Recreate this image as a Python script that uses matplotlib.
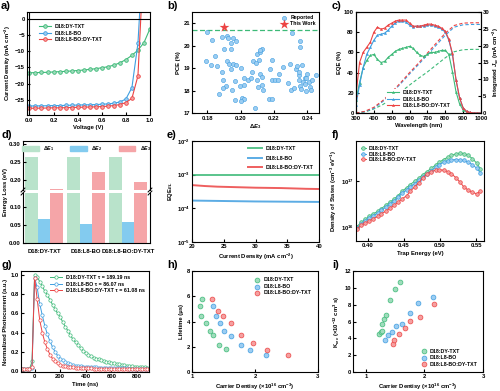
import matplotlib
matplotlib.use("Agg")
import matplotlib.pyplot as plt
from matplotlib.patches import Patch

# ---------------- data ----------------
blends = ["D18:DY-TXT", "D18:L8-BO", "D18:L8-BO:DY-TXT"]

# a) J-V
voltage = [0.0, 0.05, 0.1, 0.15, 0.2, 0.25, 0.3, 0.35, 0.4, 0.45, 0.5,
           0.55, 0.6, 0.65, 0.7, 0.75, 0.8, 0.85, 0.9, 0.95, 1.0]
j_dy = [-16.65, -16.6, -16.55, -16.5, -16.4, -16.3, -16.2, -16.1, -15.95, -15.8, -15.6,
        -15.4, -15.1, -14.8, -14.3, -13.6, -12.6, -11.3, -9.7, -7.4, -3.1]
j_l8 = [-26.85, -26.8, -26.8, -26.75, -26.7, -26.7, -26.65, -26.6, -26.55, -26.5, -26.45,
        -26.4, -26.3, -26.2, -26.0, -25.6, -24.7, -21.2, -7.6, 25.0, 40.0]
j_ter = [-27.55, -27.5, -27.5, -27.45, -27.4, -27.4, -27.35, -27.3, -27.25, -27.2, -27.15,
         -27.1, -27.0, -26.9, -26.7, -26.4, -25.8, -24.5, -17.6, 20.0, 40.0]

# b) PCE vs dE3 (reported) + this work
rep_de3 = [0.180, 0.183, 0.1886, 0.1916, 0.1926, 0.1956, 0.1972, 0.1942, 0.1898, 0.194,
           0.1846, 0.179, 0.1822, 0.186, 0.1916, 0.193, 0.1956, 0.1972, 0.1942, 0.2002,
           0.189, 0.1896, 0.191, 0.1896, 0.1872, 0.195, 0.1964, 0.1994, 0.2006, 0.2022,
           0.2002, 0.1966, 0.2022, 0.2042, 0.202, 0.2062, 0.207, 0.2076, 0.2092, 0.211,
           0.210, 0.2116, 0.213, 0.2116, 0.2096, 0.2116, 0.2126, 0.2106, 0.213, 0.2136,
           0.2086, 0.2176, 0.2186, 0.219, 0.2206, 0.2224, 0.2232, 0.217, 0.219, 0.2256,
           0.2296, 0.2306, 0.2282, 0.2302, 0.2318, 0.233, 0.234, 0.2348, 0.2352, 0.2354,
           0.236, 0.2374, 0.2384, 0.2352, 0.2368, 0.2356, 0.2356, 0.2384, 0.2394, 0.2394,
           0.240, 0.2408, 0.2414, 0.2428, 0.2424, 0.245]
rep_pce = [20.61, 20.26, 20.38, 20.41, 20.36, 20.32, 20.23, 20.11, 19.87, 19.87,
           19.52, 19.31, 19.13, 19.10, 19.31, 19.19, 19.19, 19.12, 18.97, 18.99,
           18.84, 18.48, 18.19, 18.11, 17.83, 18.01, 18.41, 18.21, 17.65, 17.64,
           17.55, 17.56, 18.56, 18.48, 18.24, 18.54, 18.81, 19.30, 19.22, 19.37,
           19.64, 19.74, 19.84, 19.81, 18.48, 18.75, 18.59, 18.16, 18.24, 18.01,
           17.24, 18.96, 18.48, 19.34, 18.48, 18.48, 18.75, 17.61, 17.61, 19.03,
           19.19, 20.56, 18.33, 18.01, 18.11, 18.96, 19.10, 18.69, 18.48, 18.21,
           18.07, 18.36, 18.54, 18.81, 19.13, 20.21, 19.96, 18.30, 18.54, 17.96,
           18.75, 18.39, 18.18, 18.48, 18.01, 18.69]
this_de3 = [0.190]
this_pce = [20.85]
best_line = 20.7

# c) EQE and integrated Jsc
wl = [300, 320, 340, 360, 380, 400, 420, 440, 460, 480, 500, 520, 540, 560, 580, 600, 620, 640,
      660, 680, 700, 720, 740, 760, 780, 800, 820, 840, 860, 880, 900, 920, 940, 960, 980, 1000]
eqe_dy = [13, 30, 45, 52, 57, 58, 53, 50, 51, 55, 58, 61, 63, 64, 65, 66, 64, 60,
          57, 56, 58, 60, 60, 61, 62, 62, 58, 41, 21, 9, 3, 1, 0.3, 0, 0, 0]
eqe_l8 = [8, 28, 45, 58, 65, 72, 77, 78, 79, 82, 86, 89, 91, 91, 90, 87, 85, 86,
          86, 86, 87, 87, 86, 85, 83, 80, 72, 58, 33, 15, 5, 1.5, 0.5, 0, 0, 0]
eqe_ter = [18, 50, 60, 65, 70, 80, 85, 83, 84, 87, 89, 91, 92, 92, 92, 89, 86, 86,
           86, 87, 88, 88, 87, 86, 84, 81, 73, 59, 33, 15, 5, 1.5, 0.5, 0, 0, 0]
wl_int = [300, 350, 400, 450, 500, 550, 600, 650, 700, 750, 800, 850, 900, 950, 1000]
jint_dy = [0, 0.3, 1.2, 2.5, 4.2, 6.2, 8.3, 10.3, 12.2, 14.3, 16.4, 18.2, 18.8, 18.9, 18.9]
jint_l8 = [0, 0.4, 1.4, 3.4, 5.9, 8.7, 11.6, 14.4, 17.3, 20.2, 23.1, 25.5, 26.2, 26.3, 26.3]
jint_ter = [0, 0.5, 1.7, 3.7, 6.2, 9.0, 12.0, 14.8, 17.8, 20.8, 23.7, 26.0, 26.7, 26.8, 26.8]

# d) energy loss
de1 = [0.264, 0.264, 0.264]
de2 = [0.067, 0.053, 0.059]
de3 = [0.176, 0.223, 0.194]

# e) EQE_EL
cd = [20, 22, 24, 26, 28, 30, 32, 34, 36, 38, 40]
eqeel_dy = [9.6e-4, 9.6e-4, 9.6e-4, 9.6e-4, 9.6e-4, 9.6e-4, 9.6e-4, 9.6e-4, 9.6e-4, 9.6e-4, 9.6e-4]
eqeel_l8 = [1.70e-4, 1.68e-4, 1.66e-4, 1.64e-4, 1.62e-4, 1.60e-4, 1.59e-4, 1.58e-4, 1.57e-4, 1.56e-4, 1.55e-4]
eqeel_ter = [4.9e-4, 4.6e-4, 4.4e-4, 4.3e-4, 4.2e-4, 4.1e-4, 4.05e-4, 4.0e-4, 3.9e-4, 3.8e-4, 3.75e-4]

# f) trap DOS (log10 values)
trap_e = [0.385, 0.391, 0.397, 0.402, 0.408, 0.414, 0.419, 0.425, 0.431, 0.437, 0.442,
          0.448, 0.454, 0.459, 0.465, 0.471, 0.476, 0.482, 0.488, 0.494, 0.499, 0.505,
          0.511, 0.516, 0.522, 0.528, 0.533, 0.539, 0.545, 0.551, 0.556]
logdos_dy = [16.01, 16.10, 16.17, 16.23, 16.29, 16.34, 16.40, 16.47, 16.54, 16.61, 16.68,
             16.78, 16.85, 16.92, 16.99, 17.06, 17.13, 17.20, 17.27, 17.34, 17.40, 17.46,
             17.51, 17.55, 17.58, 17.60, 17.59, 17.55, 17.48, 17.38, 17.26]
logdos_l8 = [15.98, 16.06, 16.13, 16.19, 16.25, 16.30, 16.36, 16.43, 16.50, 16.57, 16.64,
             16.74, 16.80, 16.87, 16.94, 17.01, 17.08, 17.15, 17.22, 17.29, 17.35, 17.40,
             17.43, 17.45, 17.46, 17.45, 17.44, 17.40, 17.35, 17.27, 17.17]
logdos_ter = [15.96, 16.04, 16.09, 16.13, 16.18, 16.23, 16.29, 16.34, 16.41, 16.47, 16.54,
              16.61, 16.68, 16.77, 16.87, 16.96, 17.06, 17.14, 17.20, 17.23, 17.24, 17.23,
              17.20, 17.15, 17.07, 16.97, 16.87, 16.80, 16.75, 16.72, 16.78]

# g) TPC
t_ns = [-100, -80, -60, -40, -20, 0, 20, 40, 60, 80, 100, 120, 140, 160, 180, 200, 220,
        240, 260, 280, 300, 320, 340, 360, 380, 400, 420, 440, 460, 480, 500, 520, 540,
        560, 580, 600, 620, 640, 660, 680, 700, 720, 740, 760, 780, 800, 820, 840, 860, 880, 900]
tpc_dy = [0.02, 0.02, 0.02, 0.02, 0.10, 1.00, 0.98, 0.93, 0.88, 0.83, 0.79, 0.74, 0.69, 0.64,
          0.60, 0.56, 0.51, 0.46, 0.42, 0.37, 0.33, 0.30, 0.27, 0.24, 0.21, 0.19, 0.17, 0.155,
          0.14, 0.13, 0.125, 0.115, 0.105, 0.095, 0.09, 0.085, 0.08, 0.075, 0.07, 0.065, 0.06,
          0.055, 0.05, 0.05, 0.045, 0.045, 0.04, 0.04, 0.04, 0.035, 0.035]
tpc_l8 = [0.02, 0.02, 0.02, 0.02, 0.03, 0.97, 0.87, 0.70, 0.58, 0.47, 0.38, 0.31, 0.25, 0.20,
          0.16, 0.13, 0.11, 0.09, 0.08, 0.07, 0.06, 0.055, 0.05, 0.05, 0.045, 0.045, 0.04,
          0.04, 0.04, 0.04, 0.035, 0.035, 0.035, 0.035, 0.03, 0.03, 0.03, 0.03, 0.03, 0.03,
          0.03, 0.03, 0.025, 0.025, 0.025, 0.025, 0.025, 0.025, 0.025, 0.025, 0.025]
tpc_ter = [0.02, 0.02, 0.02, 0.02, 0.04, 0.97, 0.75, 0.53, 0.40, 0.30, 0.23, 0.17, 0.13, 0.10,
           0.08, 0.065, 0.055, 0.05, 0.045, 0.04, 0.04, 0.035, 0.035, 0.03, 0.03, 0.03, 0.03,
           0.03, 0.025, 0.025, 0.025, 0.025, 0.025, 0.025, 0.02, 0.02, 0.02, 0.02, 0.02, 0.02,
           0.02, 0.02, 0.02, 0.02, 0.02, 0.02, 0.02, 0.02, 0.02, 0.02, 0.02]
tau_labels = ["D18:DY-TXT \u03c4 = 189.19 ns", "D18:L8-BO \u03c4 = 86.07 ns",
              "D18:L8-BO:DY-TXT \u03c4 = 61.08 ns"]

# h) lifetime vs carrier density
n_dy_h = [1.16, 1.13, 1.15, 1.23, 1.28, 1.33, 1.43, 1.54]
tau_dy = [5.82, 5.21, 4.42, 3.89, 3.23, 2.96, 2.17, 1.85]
n_l8_h = [1.33, 1.38, 1.45, 1.51, 1.62, 1.77, 1.92, 2.17]
tau_l8 = [5.21, 4.42, 3.89, 3.23, 2.88, 2.17, 1.72, 1.38]
n_ter_h = [1.32, 1.41, 1.49, 1.62, 1.78, 1.97, 2.19, 2.52]
tau_ter = [5.82, 4.81, 4.42, 3.89, 2.96, 2.33, 1.72, 1.38]

# i) Krec vs carrier density
n_dy_i = [1.22, 1.25, 1.27, 1.28, 1.31, 1.34, 1.42, 1.49, 1.58]
k_dy = [4.55, 4.78, 4.90, 5.73, 6.35, 6.75, 8.51, 9.88, 10.75]
n_l8_i = [1.33, 1.38, 1.44, 1.51, 1.61, 1.75, 1.89, 2.14]
k_l8 = [3.80, 4.39, 4.71, 5.49, 5.69, 7.02, 8.24, 8.90]
n_ter_i = [1.46, 1.48, 1.56, 1.66, 1.75, 1.93, 2.17]
k_ter = [3.37, 3.84, 4.55, 5.18, 6.04, 6.55, 8.04]

# ---------------- style ----------------
GREEN, BLUE, RED = "#3dba78", "#3f9ee0", "#ec4343"
LGREEN, LBLUE, LRED = "#9fdcbc", "#9ccdf2", "#f5a0a0"
BAR_G, BAR_B, BAR_R = "#b9e3cb", "#83cbef", "#f5a5a8"

plt.rcParams["font.family"] = ["Liberation Sans", "DejaVu Sans"]
plt.rcParams["font.weight"] = "bold"
plt.rcParams["axes.labelweight"] = "bold"
plt.rcParams["font.size"] = 4.2
plt.rcParams["mathtext.fontset"] = "custom"
plt.rcParams["mathtext.rm"] = "Liberation Sans:bold"
plt.rcParams["mathtext.it"] = "Liberation Sans:italic:bold"
plt.rcParams["mathtext.bf"] = "Liberation Sans:bold"
plt.rcParams["axes.linewidth"] = 0.8
plt.rcParams["xtick.direction"] = "in"
plt.rcParams["ytick.direction"] = "in"
plt.rcParams["xtick.major.size"] = 2
plt.rcParams["ytick.major.size"] = 2
plt.rcParams["xtick.minor.size"] = 1
plt.rcParams["ytick.minor.size"] = 1
plt.rcParams["xtick.major.pad"] = 1.8
plt.rcParams["ytick.major.pad"] = 1.5
plt.rcParams["axes.labelpad"] = 1.5
plt.rcParams["legend.frameon"] = False
plt.rcParams["legend.fontsize"] = 3.8

W, H = 500, 391
fig = plt.figure(figsize=(5, 3.91), dpi=100)


def box(l, t, r, b):
    return [l / W, 1 - b / H, (r - l) / W, (b - t) / H]


def tag(x, y, s):
    fig.text(x / W, 1 - y / H, s, fontsize=8, fontweight="bold", va="top", ha="left")


colors = [GREEN, BLUE, RED]
lights = [LGREEN, LBLUE, LRED]

# ---------------- a) J-V ----------------
ax = fig.add_axes(box(27, 12, 150, 115))
for j, c, lc, lab in zip([j_dy, j_l8, j_ter], colors, lights, blends):
    ax.plot(voltage, j, color=c, lw=0.8, marker="o", ms=2.6, mfc=lc, mec=c, mew=0.6, label=lab)
ax.axhline(0, color="k", lw=0.8)
ax.axvline(0, color="k", lw=0.8)
ax.set_xlim(-0.02, 1.0)
ax.set_ylim(-29.6, 2)
ax.set_xticks([0.0, 0.2, 0.4, 0.6, 0.8, 1.0])
ax.set_yticks([0, -5, -10, -15, -20, -25])
ax.set_xlabel("Voltage (V)")
ax.set_ylabel("Current Density (mA cm$^{-2}$)")
ax.legend(loc="upper left", bbox_to_anchor=(0.06, 0.93), handlelength=2.2, labelspacing=0.3)
tag(1, 1, "a)")

# ---------------- b) PCE vs dE3 ----------------
ax = fig.add_axes(box(192, 12, 319, 113))
ax.scatter(rep_de3, rep_pce, s=9, color=LBLUE, edgecolor=BLUE, lw=0.4, label="Reported", zorder=3)
ax.scatter(this_de3, this_pce, s=55, marker="*", color=RED, lw=0, label="This Work", zorder=4)
ax.axhline(best_line, color=GREEN, ls=(0, (4, 2)), lw=0.9)
ax.set_xlim(0.1708, 0.247)
ax.set_ylim(17, 21.5)
ax.set_xticks([0.18, 0.20, 0.22, 0.24])
ax.set_yticks([17, 18, 19, 20, 21])
ax.set_xlabel("$\\Delta E_3$")
ax.set_ylabel("PCE (%)")
ax.legend(loc="upper right", handletextpad=0.2, labelspacing=0.2, borderaxespad=0.2)
tag(167, 1, "b)")

# ---------------- c) EQE ----------------
ax = fig.add_axes(box(356, 12, 481, 113))
ax2 = ax.twinx()
for e, c, lab in zip([eqe_dy, eqe_l8, eqe_ter], colors, blends):
    ax.plot(wl, e, color=c, lw=0.8, marker="^", ms=1.6, mew=0.3, label=lab)
for jj, c in zip([jint_dy, jint_l8, jint_ter], colors):
    ax2.plot(wl_int, jj, color=c, lw=0.8, ls=(0, (3, 2)))
ax.set_xlim(300, 1000)
ax.set_ylim(0, 100)
ax2.set_ylim(0, 30)
ax.set_xticks(range(300, 1001, 100))
ax2.tick_params(direction="in", length=2, pad=1.2)
ax.set_xlabel("Wavelength (nm)")
ax.set_ylabel("EQE (%)")
ax2.set_ylabel("Integrated $J_{sc}$ (mA cm$^{-2}$)", labelpad=0.8)
ax.set_zorder(ax2.get_zorder() + 1)
ax.patch.set_visible(False)
leg = ax.legend(loc="lower left", bbox_to_anchor=(0.22, 0.01), frameon=True, edgecolor="none",
                framealpha=1, handlelength=2.2, labelspacing=0.3, borderpad=0.2)
tag(332, 1, "c)")

# ---------------- d) energy loss (broken axis) ----------------
ax_top = fig.add_axes(box(23, 141, 150, 190))
ax_bot = fig.add_axes(box(23, 193, 150, 243))
xs = [0, 1, 2]
bw = 0.3
for a in (ax_top, ax_bot):
    a.bar([x - bw for x in xs], de1, bw, color=BAR_G)
    a.bar(xs, de2, bw, color=BAR_B)
    a.bar([x + bw for x in xs], de3, bw, color=BAR_R)
    a.set_xlim(-0.5, 2.52)
ax_top.set_ylim(0.172, 0.308)
ax_bot.set_ylim(0, 0.139)
ax_top.set_yticks([0.20, 0.25, 0.30])
ax_bot.set_yticks([0.00, 0.05, 0.10])
ax_top.yaxis.set_major_formatter(plt.FormatStrFormatter("%.2f"))
ax_bot.yaxis.set_major_formatter(plt.FormatStrFormatter("%.2f"))
ax_top.spines["bottom"].set_visible(False)
ax_bot.spines["top"].set_visible(False)
ax_top.set_xticks([])
ax_bot.set_xticks(xs)
ax_bot.set_xticklabels(blends)
ax_bot.tick_params(axis="x", length=0, pad=4)
for a, yy in ((ax_top, 0), (ax_bot, 1)):
    for xx in (0, 1):
        a.plot([xx - 0.015, xx + 0.015], [yy - 0.04, yy + 0.04], transform=a.transAxes,
               color="k", lw=0.7, clip_on=False)
ax_top.legend(handles=[Patch(color=BAR_G, label="$\\Delta E_1$"),
                       Patch(color=BAR_B, label="$\\Delta E_2$"),
                       Patch(color=BAR_R, label="$\\Delta E_3$")],
              loc="upper center", ncol=3, handlelength=3.2, handleheight=1.0,
              columnspacing=3.0, borderaxespad=0.2)
fig.text(3 / W, 1 - 192 / H, "Energy Loss (eV)", rotation=90, va="center", ha="left",
         fontweight="bold")
tag(1, 130, "d)")

# ---------------- e) EQE_EL ----------------
ax = fig.add_axes(box(192, 141, 319, 242))
for e, c, lab in zip([eqeel_dy, eqeel_l8, eqeel_ter], colors, blends):
    ax.plot(cd, e, color=c, lw=1.4, alpha=0.85, label=lab)
ax.set_yscale("log")
ax.set_xlim(20, 40)
ax.set_ylim(1e-5, 1e-2)
ax.set_xticks([20, 25, 30, 35, 40])
ax.minorticks_off()
ax.set_xlabel("Current Density (mA cm$^{-2}$)")
ax.set_ylabel("EQE$_{EL}$")
ax.legend(loc="upper right", handlelength=2.6, labelspacing=0.8, borderaxespad=0.6)
tag(167, 130, "e)")

# ---------------- f) trap DOS ----------------
ax = fig.add_axes(box(356, 141, 484, 241))
for ld, c, lc, lab in zip([logdos_dy, logdos_l8, logdos_ter], colors, lights, blends):
    dos = [10 ** v for v in ld]
    ax.plot(trap_e, dos, color=c, lw=0.7, marker="o", ms=2.6, mfc=lc, mec=c, mew=0.5, label=lab)
ax.set_yscale("log")
ax.set_xlim(0.384, 0.561)
ax.set_ylim(10 ** 15.7, 10 ** 17.86)
ax.set_xticks([0.40, 0.45, 0.50, 0.55])
ax.minorticks_off()
ax.set_yticks([1e16, 1e17])
ax.set_xlabel("Trap Energy (eV)")
ax.set_ylabel("Density of States (cm$^{-3}$ eV$^{-1}$)")
ax.legend(loc="upper left", handlelength=1.0, labelspacing=0.15, borderaxespad=0.5,
          handletextpad=0.4)
tag(332, 130, "f)")

# ---------------- g) TPC ----------------
ax = fig.add_axes(box(21, 271, 149, 372))
for tp, c, lc, lab in zip([tpc_dy, tpc_l8, tpc_ter], colors, lights, tau_labels):
    ax.plot(t_ns, tp, color=c, lw=0.7, marker="o", ms=2.4, mfc="white", mec=c, mew=0.5, label=lab)
ax.set_xlim(-106, 893)
ax.set_ylim(-0.01, 1.04)
ax.set_xticks([0, 200, 400, 600, 800])
ax.set_yticks([0.0, 0.2, 0.4, 0.6, 0.8, 1.0])
ax.yaxis.set_major_formatter(plt.FormatStrFormatter("%.1f"))
ax.set_xlabel("Time (ns)")
ax.set_ylabel("Normalized Photocurrent (a.u.)")
ax.legend(loc="upper right", handlelength=2.2, labelspacing=0.25, borderaxespad=0.4)
tag(1, 260, "g)")

# ---------------- h) lifetime ----------------
ax = fig.add_axes(box(192, 271, 318, 372))
for nn, tt, c, lc, lab in zip([n_dy_h, n_l8_h, n_ter_h], [tau_dy, tau_l8, tau_ter],
                              colors, lights, blends):
    ax.scatter(nn, tt, s=12, color=lc, edgecolor=c, lw=0.5, label=lab)
ax.set_xlim(1, 3)
ax.set_ylim(0, 8)
ax.set_xticks([1, 2, 3])
ax.set_yticks([0, 2, 4, 6, 8])
ax.set_xlabel("Carrier Dentisy (\u00d710$^{16}$ cm$^{-3}$)")
ax.set_ylabel("Lifetime (\u03bcs)")
ax.legend(loc="upper right", handletextpad=0.2, labelspacing=0.3, borderaxespad=0.8)
tag(167, 260, "h)")

# ---------------- i) Krec ----------------
ax = fig.add_axes(box(353, 271, 483, 372))
for nn, kk, c, lc, lab in zip([n_dy_i, n_l8_i, n_ter_i], [k_dy, k_l8, k_ter],
                              colors, lights, blends):
    ax.scatter(nn, kk, s=12, color=lc, edgecolor=c, lw=0.5, label=lab)
ax.set_xlim(0.78, 3)
ax.set_ylim(0, 12)
ax.set_xticks([1, 2, 3])
ax.set_yticks([0, 2, 4, 6, 8, 10, 12])
ax.set_xlabel("Carrier Dentisy (\u00d710$^{16}$ cm$^{-3}$)")
ax.set_ylabel("K$_{rec}$ (\u00d710$^{-12}$ cm$^{3}$ s)")
ax.legend(loc="lower right", handletextpad=0.2, labelspacing=0.3, borderaxespad=0.6)
tag(332, 260, "i)")

fig.savefig("out.png", dpi=100)
